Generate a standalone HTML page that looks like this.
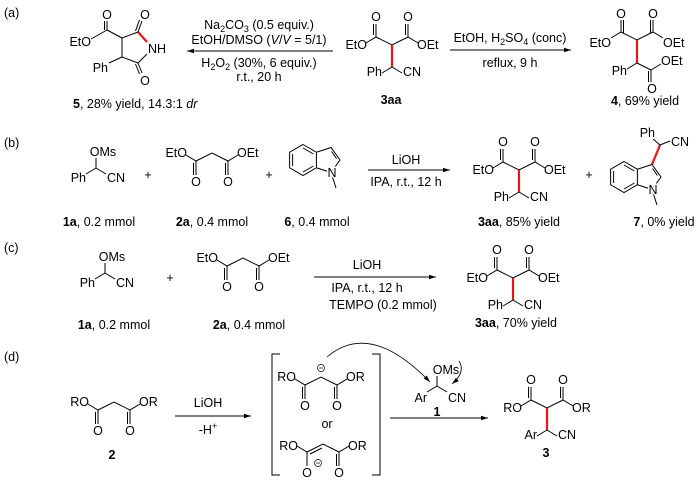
<!DOCTYPE html>
<html><head><meta charset="utf-8"><style>
html,body{margin:0;padding:0;background:#fff}
svg{display:block}
text{font-family:"Liberation Sans",Arial,sans-serif;font-size:12.5px;fill:#000}
.a{paint-order:stroke;stroke:#fff;stroke-width:3px;stroke-linejoin:round}
.m{text-anchor:middle}.e{text-anchor:end}
line,path,polyline{stroke:#000;stroke-width:1;fill:none}
.r{stroke:#e8141c;stroke-width:2.2}
.sub{font-size:9px}
</style></head><body>
<svg width="700" height="480" viewBox="0 0 700 480" xmlns="http://www.w3.org/2000/svg">
<defs>
<marker id="ah" markerWidth="8" markerHeight="6" refX="7" refY="3" orient="auto" markerUnits="userSpaceOnUse"><path d="M0,0.8 L7,3 L0,5.2 Z" style="fill:#000;stroke:none"/></marker>
<g id="T">
<polyline points="-26,-2 -16,-8 0,0 16,-8 26,-2"/>
<line x1="-16" y1="-8" x2="-16" y2="-21"/><line x1="-18.5" y1="-10" x2="-18.5" y2="-21"/>
<line x1="16" y1="-8" x2="16" y2="-21"/><line x1="13.5" y1="-10" x2="13.5" y2="-21"/>
<text class="m" x="-16" y="-24">O</text><text class="m" x="16" y="-24">O</text>
<line x1="0" y1="22" x2="-10" y2="28"/><line x1="0" y1="22" x2="10" y2="28"/>
<line class="r" x1="0" y1="0" x2="0" y2="22"/>
</g>
<g id="M">
<polyline points="-26,2 -16,8 0,0 16,8 26,2"/>
<line x1="-16" y1="8" x2="-16" y2="22"/><line x1="-18.5" y1="10" x2="-18.5" y2="22"/>
<line x1="16" y1="8" x2="16" y2="22"/><line x1="13.5" y1="10" x2="13.5" y2="22"/>
<text class="m" x="-16" y="33">O</text><text class="m" x="16" y="33">O</text>
</g>
<g id="I">
<polygon points="0,-15.5 13.4,-7.75 13.4,7.75 0,15.5 -13.4,7.75 -13.4,-7.75" style="fill:none;stroke:#000;stroke-width:1"/>
<line x1="0" y1="-12" x2="10.4" y2="-6"/><line x1="10.4" y1="6" x2="0" y2="12"/><line x1="-10.4" y1="6" x2="-10.4" y2="-6"/>
<polyline points="13.4,-7.75 28,-12.5 37,0 28,12.5 13.4,7.75"/>
<line x1="28.5" y1="-8.5" x2="33.5" y2="-1.5"/>
<line x1="28" y1="12.5" x2="33" y2="28"/>
<text class="m a" x="29" y="17">N</text>
</g>
<g id="S">
<line x1="0" y1="0" x2="0" y2="-10"/><line x1="0" y1="0" x2="-10" y2="6"/><line x1="0" y1="0" x2="10" y2="6"/>
</g>
</defs>

<!-- (a) -->
<text x="4" y="17">(a)</text>
<line x1="91" y1="39" x2="107" y2="30"/><line x1="107" y1="30" x2="107" y2="21"/><line x1="104.5" y1="30" x2="104.5" y2="21"/>
<text class="m" x="107" y="19">O</text>
<text class="e" x="91" y="46">EtO</text>
<line x1="107" y1="30" x2="122" y2="38"/>
<polyline points="146,41 138,32 122,38 122,57 138,63 147,54"/>
<line class="r" x1="138" y1="32" x2="147" y2="42"/>
<line x1="138" y1="32" x2="142" y2="21"/><line x1="135.5" y1="31" x2="139.5" y2="20"/>
<text class="m" x="145" y="19">O</text>
<line x1="138" y1="63" x2="142" y2="73"/><line x1="135.5" y1="64" x2="139.5" y2="74"/>
<text class="m" x="145" y="85">O</text>
<text x="148" y="53">NH</text>
<line x1="122" y1="57" x2="109" y2="63"/>
<text class="e" x="108" y="72">Ph</text>
<text x="73" y="108"><tspan font-weight="bold">5</tspan>, 28% yield, 14.3:1 <tspan font-style="italic">dr</tspan></text>
<line x1="333" y1="51" x2="187" y2="51" marker-end="url(#ah)"/>
<text class="m" x="259" y="29">Na<tspan class="sub" dy="3">2</tspan><tspan dy="-3">CO</tspan><tspan class="sub" dy="3">3</tspan><tspan dy="-3"> (0.5 equiv.)</tspan></text>
<text class="m" x="259" y="44">EtOH/DMSO (<tspan font-style="italic">V</tspan>/<tspan font-style="italic">V</tspan> = 5/1)</text>
<text class="m" x="259" y="67">H<tspan class="sub" dy="3">2</tspan><tspan dy="-3">O</tspan><tspan class="sub" dy="3">2</tspan><tspan dy="-3"> (30%, 6 equiv.)</tspan></text>
<text class="m" x="259" y="81">r.t., 20 h</text>
<use href="#T" x="392" y="45"/>
<text class="e" x="367" y="49">EtO</text><text x="417" y="49">OEt</text>
<text class="e" x="382" y="76">Ph</text><text x="403" y="76">CN</text>
<text class="m" x="391" y="104" font-weight="bold">3aa</text>
<line x1="450" y1="50" x2="571" y2="50" marker-end="url(#ah)"/>
<text class="m" x="510" y="42">EtOH, H<tspan class="sub" dy="3">2</tspan><tspan dy="-3">SO</tspan><tspan class="sub" dy="3">4</tspan><tspan dy="-3"> (conc)</tspan></text>
<text class="m" x="510" y="67">reflux, 9 h</text>
<polyline points="611,38 621,32 637,40 653,32 663,38"/>
<line x1="621" y1="32" x2="621" y2="20"/><line x1="623.5" y1="33" x2="623.5" y2="20"/>
<line x1="653" y1="32" x2="653" y2="20"/><line x1="650.5" y1="33" x2="650.5" y2="20"/>
<text class="m" x="621" y="18">O</text><text class="m" x="653" y="18">O</text>
<text class="e" x="611" y="47">EtO</text><text x="663" y="47">OEt</text>
<line class="r" x1="637" y1="40" x2="637" y2="63"/>
<line x1="637" y1="63" x2="627" y2="69"/><text class="e" x="627" y="75">Ph</text>
<line x1="637" y1="63" x2="651" y2="70"/><line x1="651" y1="70" x2="661" y2="64"/>
<text x="661" y="65">OEt</text>
<line x1="651" y1="70" x2="651" y2="82"/><line x1="648.5" y1="71" x2="648.5" y2="82"/>
<text class="m" x="652" y="93">O</text>
<text class="m" x="645" y="105"><tspan font-weight="bold">4</tspan>, 69% yield</text>

<!-- (b) -->
<text x="4" y="147">(b)</text>
<use href="#S" x="96" y="168"/>
<text class="m" x="103" y="156">OMs</text>
<text class="e" x="86" y="182">Ph</text><text x="107" y="182">CN</text>
<text class="m" x="148" y="179">+</text>
<use href="#M" x="212" y="153"/>
<text class="e" x="187" y="157">EtO</text><text x="237" y="157">OEt</text>
<text class="m" x="269" y="179">+</text>
<use href="#I" x="303" y="160"/>
<line x1="368" y1="170" x2="450" y2="170" marker-end="url(#ah)"/>
<text class="m" x="406" y="164">LiOH</text>
<text class="m" x="406" y="186">IPA, r.t., 12 h</text>
<use href="#T" x="519" y="170"/>
<text class="e" x="494" y="174">EtO</text><text x="544" y="174">OEt</text>
<text class="e" x="509" y="201">Ph</text><text x="530" y="201">CN</text>
<text class="m" x="589" y="179">+</text>
<use href="#I" x="624" y="177"/>
<line class="r" x1="652" y1="164.5" x2="660" y2="145"/>
<line x1="660" y1="145" x2="653" y2="139"/><line x1="660" y1="145" x2="670" y2="141"/>
<text class="e" x="655" y="137">Ph</text><text x="671" y="146">CN</text>
<text class="m" x="99" y="226"><tspan font-weight="bold">1a</tspan>, 0.2 mmol</text>
<text class="m" x="212" y="226"><tspan font-weight="bold">2a</tspan>, 0.4 mmol</text>
<text class="m" x="317" y="226"><tspan font-weight="bold">6</tspan>, 0.4 mmol</text>
<text class="m" x="519" y="226"><tspan font-weight="bold">3aa</tspan>, 85% yield</text>
<text class="m" x="664" y="226"><tspan font-weight="bold">7</tspan>, 0% yield</text>

<!-- (c) -->
<text x="4" y="252">(c)</text>
<use href="#S" x="105" y="273"/>
<text class="m" x="112" y="261">OMs</text>
<text class="e" x="95" y="287">Ph</text><text x="116" y="287">CN</text>
<text class="m" x="170" y="282">+</text>
<use href="#M" x="243" y="258"/>
<text class="e" x="218" y="262">EtO</text><text x="268" y="262">OEt</text>
<line x1="314" y1="277" x2="436" y2="277" marker-end="url(#ah)"/>
<text class="m" x="367" y="269">LiOH</text>
<text class="m" x="367" y="292">IPA, r.t., 12 h</text>
<text class="m" x="383" y="309">TEMPO (0.2 mmol)</text>
<use href="#T" x="513" y="278"/>
<text class="e" x="488" y="282">EtO</text><text x="538" y="282">OEt</text>
<text class="e" x="503" y="309">Ph</text><text x="524" y="309">CN</text>
<text class="m" x="516" y="327"><tspan font-weight="bold">3aa</tspan>, 70% yield</text>
<text class="m" x="114" y="329"><tspan font-weight="bold">1a</tspan>, 0.2 mmol</text>
<text class="m" x="249" y="329"><tspan font-weight="bold">2a</tspan>, 0.4 mmol</text>

<!-- (d) -->
<text x="4" y="361">(d)</text>
<use href="#M" x="114" y="402"/>
<text class="e" x="89" y="406">RO</text><text x="139" y="406">OR</text>
<text class="m" x="112" y="459" font-weight="bold">2</text>
<line x1="175" y1="416" x2="251" y2="416" marker-end="url(#ah)"/>
<text class="m" x="208" y="407">LiOH</text>
<text class="m" x="208" y="434">-H<tspan class="sub" dy="-5">+</tspan></text>
<polyline points="280,354 272,354 272,475 280,475"/>
<polyline points="372,354 380,354 380,475 372,475"/>
<use href="#M" x="321" y="377"/>
<text class="e" x="296" y="381">RO</text><text x="346" y="381">OR</text>
<circle cx="321" cy="368" r="3.5" style="fill:none;stroke:#000;stroke-width:0.7"/><line x1="319" y1="368" x2="323" y2="368" style="stroke-width:0.7"/>
<text class="m" x="327" y="428">or</text>
<polyline points="297,446 307,452 323,444 339,452 349,446"/>
<line x1="310" y1="454" x2="322" y2="448"/>
<line x1="307" y1="452" x2="307" y2="466"/>
<line x1="339" y1="452" x2="339" y2="466"/><line x1="336.5" y1="454" x2="336.5" y2="466"/>
<text class="m" x="307" y="477">O</text><text class="m" x="339" y="477">O</text>
<text class="e" x="298" y="450">RO</text><text x="348" y="450">OR</text>
<circle cx="318" cy="463" r="3.5" style="fill:none;stroke:#000;stroke-width:0.7"/><line x1="316" y1="463" x2="320" y2="463" style="stroke-width:0.7"/>
<path d="M327,357 Q370,320 430,382" marker-end="url(#ah)" style="stroke-width:0.8"/>
<use href="#S" x="437" y="386"/>
<text class="m" x="446" y="374">OMs</text>
<text class="e" x="427" y="402">Ar</text><text x="448" y="402">CN</text>
<text class="m" x="437" y="416" font-weight="bold">1</text>
<path d="M459,361 Q466,372 452,384" marker-end="url(#ah)" style="stroke-width:0.8"/>
<line x1="390" y1="418" x2="488" y2="418" marker-end="url(#ah)"/>
<use href="#T" x="547" y="408"/>
<text class="e" x="522" y="412">RO</text><text x="572" y="412">OR</text>
<text class="e" x="537" y="439">Ar</text><text x="558" y="439">CN</text>
<text class="m" x="546" y="457" font-weight="bold">3</text>
</svg>
</body></html>
